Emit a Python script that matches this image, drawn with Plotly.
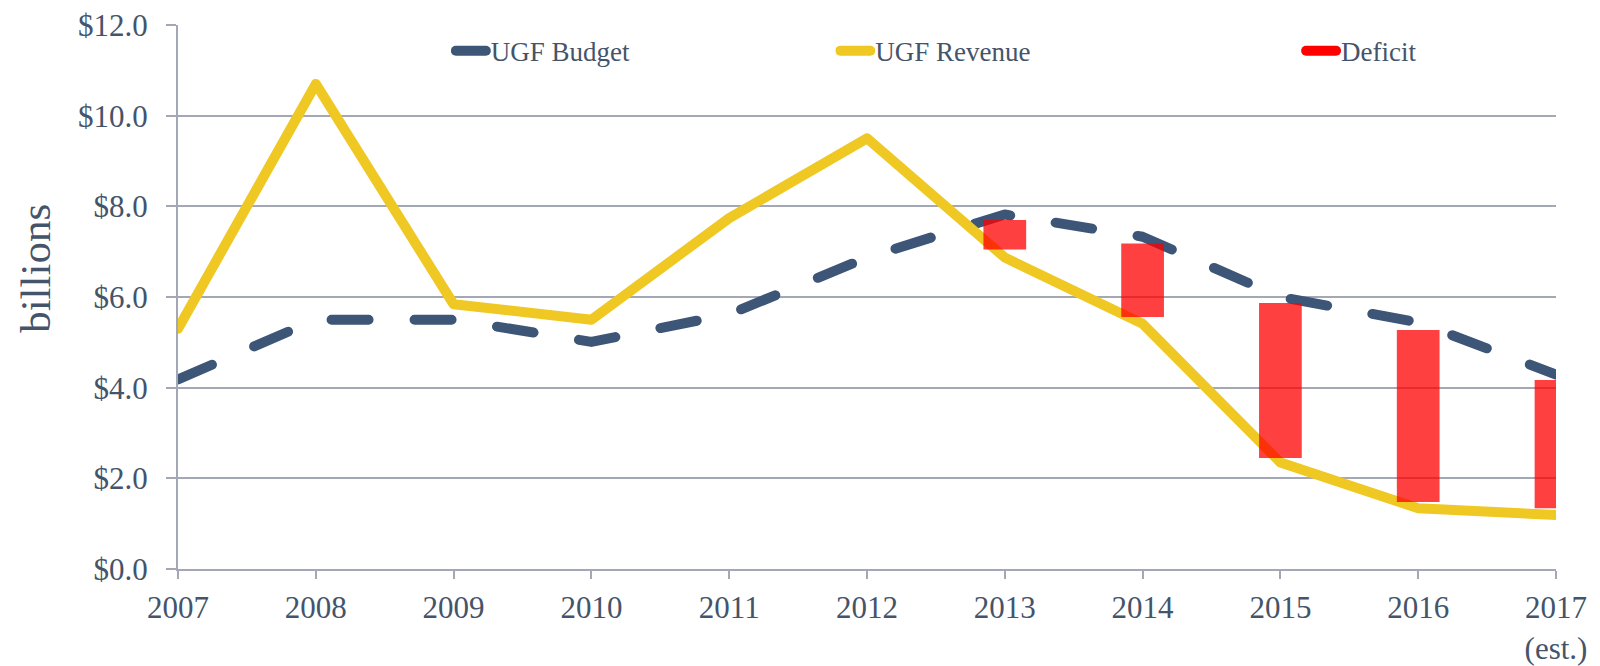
import plotly.graph_objects as go

years = [2007, 2008, 2009, 2010, 2011, 2012, 2013, 2014, 2015, 2016, 2017]
year_labels = ["2007", "2008", "2009", "2010", "2011", "2012", "2013", "2014", "2015", "2016", "2017<br>(est.)"]
budget = [4.18, 5.5, 5.5, 5.01, 5.62, 6.87, 7.82, 7.33, 6.0, 5.44, 4.29]
revenue = [5.3, 10.7, 5.84, 5.5, 7.74, 9.5, 6.87, 5.41, 2.35, 1.34, 1.19]
deficit_years = [2013, 2014, 2015, 2016, 2017]
deficit_top = [7.7, 7.18, 5.87, 5.27, 4.17]
deficit_bottom = [7.05, 5.56, 2.45, 1.48, 1.34]
y_ticks = [0, 2, 4, 6, 8, 10, 12]
y_labels = ["$0.0", "$2.0", "$4.0", "$6.0", "$8.0", "$10.0", "$12.0"]

TEXT = "#44546A"
GRID = "#A4A8B4"
BUDGET_C = "#3D5576"
REV_C = "#F0C823"
FONT = "Liberation Serif"

fig = go.Figure()
fig.add_trace(go.Scatter(x=years, y=budget, mode="lines", name="UGF Budget",
                         line=dict(color=BUDGET_C, width=10, dash="37px,46px"),
                         legend="legend", hoverinfo="skip"))
fig.add_trace(go.Scatter(x=years, y=revenue, mode="lines", name="UGF Revenue",
                         line=dict(color=REV_C, width=10),
                         legend="legend2", hoverinfo="skip"))
# deficit bars drawn on an overlaying axis pair so they sit on top of the lines
fig.add_trace(go.Bar(x=deficit_years,
                     y=[t - b for t, b in zip(deficit_top, deficit_bottom)],
                     base=deficit_bottom, width=0.31,
                     marker=dict(color="rgba(255,0,0,0.75)", line=dict(width=0)),
                     xaxis="x2", yaxis="y2", showlegend=False, hoverinfo="skip"))
# legend entry for deficit
fig.add_trace(go.Scatter(x=[None], y=[None], mode="lines", name="Deficit",
                         line=dict(color="#FF0000", width=13),
                         legend="legend3", hoverinfo="skip"))

leg_common = dict(orientation="h", yanchor="middle", y=0.952, xanchor="left",
                  bgcolor="rgba(0,0,0,0)", font=dict(family=FONT, size=27, color=TEXT))
fig.update_layout(
    width=1600, height=666,
    margin=dict(l=178, r=44, t=25, b=97),
    paper_bgcolor="white", plot_bgcolor="white",
    font=dict(family=FONT, color=TEXT, size=31),
    legend=dict(x=0.198, **leg_common),
    legend2=dict(x=0.477, **leg_common),
    legend3=dict(x=0.815, **leg_common),
    xaxis=dict(range=[2007, 2017], tickvals=years, ticktext=year_labels,
               showgrid=False, showline=True, linecolor=GRID, linewidth=2,
               ticks="outside", ticklen=8, tickcolor=GRID, tickwidth=2,
               tickfont=dict(family=FONT, size=31, color=TEXT), zeroline=False,
               ticklabelstandoff=2, automargin=False),
    yaxis=dict(range=[0, 12], tickvals=y_ticks, ticktext=y_labels,
               showgrid=True, gridcolor=GRID, gridwidth=2,
               showline=True, linecolor=GRID, linewidth=2,
               ticks="outside", ticklen=10, tickcolor=GRID, tickwidth=2,
               tickfont=dict(family=FONT, size=31, color=TEXT), zeroline=False,
               ticklabelstandoff=12, automargin=False),
    xaxis2=dict(range=[2007, 2017], overlaying="x", visible=False, fixedrange=True),
    yaxis2=dict(range=[0, 12], overlaying="y", visible=False, fixedrange=True),
    showlegend=True,
    annotations=[dict(text="billions", xref="paper", yref="paper", x=-0.104, y=0.553,
                      textangle=-90, showarrow=False, xanchor="center", yanchor="middle",
                      font=dict(family=FONT, size=43, color=TEXT))],
)

post = """
document.body.style.margin='0';
function rc(){document.querySelectorAll('.scatterlayer .js-line, .legendlines path').forEach(function(p){p.style.strokeLinecap='round';p.style.strokeLinejoin='round';});}
rc(); setTimeout(rc, 200);
"""
fig.write_html("out.html", post_script=post, config={"displayModeBar": False})
